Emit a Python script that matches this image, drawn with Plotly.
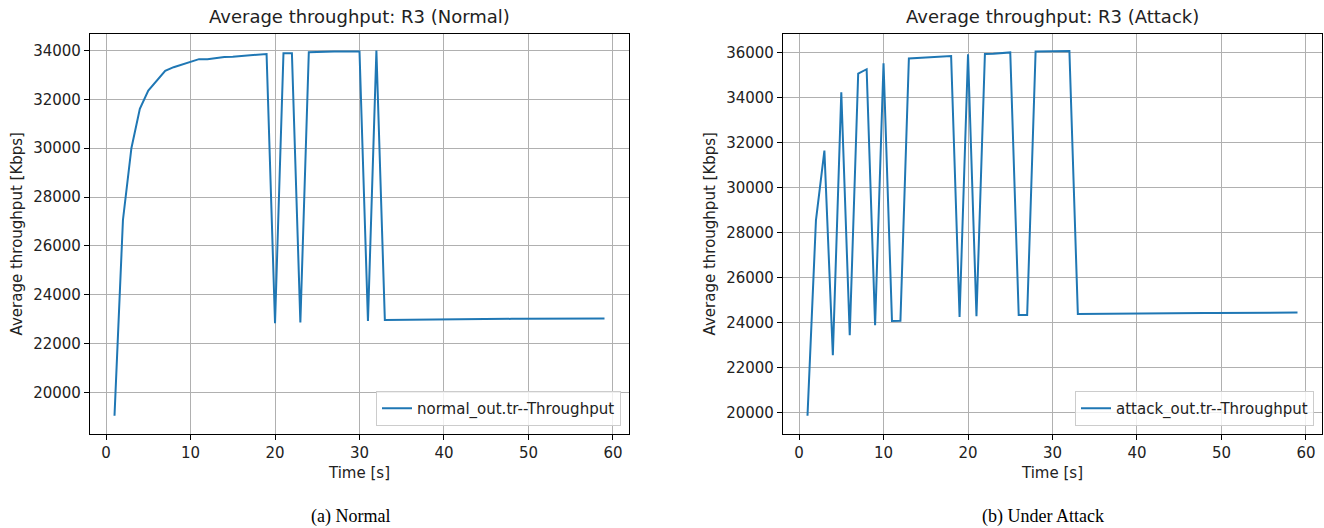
import plotly.graph_objects as go

# ---- data ----
time_s = list(range(1, 60))

normal_throughput = [
    19040, 27060, 30000, 31610, 32360, 32770, 33170, 33320, 33430, 33540,
    33650, 33650, 33710, 33740, 33750, 33780, 33800, 33810, 33860, 22830,
    33890, 33890, 22860, 33930, 33950, 33960, 33960, 33960, 33955, 33960,
    22920, 34000, 22965, 22970, 22975, 22978, 22982, 22985, 22988, 22990,
    22993, 22995, 22997, 23000, 23002, 23004, 23006, 23008, 23010, 23012,
    23013, 23015, 23016, 23018, 23019, 23020, 23021, 23022, 23023,
]

attack_throughput = [
    19850, 28550, 31650, 22550, 34250, 23440, 35080, 35270, 23880, 35530,
    24070, 24080, 35750, 35770, 35790, 35810, 35830, 35860, 24250, 35940,
    24280, 35950, 35960, 35990, 36020, 24330, 24330, 36060, 36062, 36064,
    36066, 36080, 24380, 24385, 24390, 24393, 24396, 24399, 24402, 24405,
    24407, 24410, 24412, 24414, 24416, 24418, 24420, 24422, 24424, 24426,
    24428, 24430, 24432, 24434, 24436, 24438, 24440, 24442, 24444,
]

normal_name = "normal_out.tr--Throughput"
attack_name = "attack_out.tr--Throughput"
titles = ["Average throughput: R3 (Normal)", "Average throughput: R3 (Attack)"]
captions = ["(a) Normal", "(b) Under Attack"]
x_ticks = [0, 10, 20, 30, 40, 50, 60]
y_ticks_normal = list(range(20000, 34001, 2000))
y_ticks_attack = list(range(20000, 36001, 2000))

# ---- figure ----
W, H = 1324, 528
FONT = "DejaVu Sans"
LINE_COLOR = "#1f77b4"
TXT = "#222222"

fig = go.Figure()
fig.add_trace(go.Scatter(x=time_s, y=normal_throughput, mode="lines", name=normal_name,
                         line=dict(color=LINE_COLOR, width=2), xaxis="x", yaxis="y",
                         legend="legend"))
fig.add_trace(go.Scatter(x=time_s, y=attack_throughput, mode="lines", name=attack_name,
                         line=dict(color=LINE_COLOR, width=2), xaxis="x2", yaxis="y2",
                         legend="legend2"))

def px_x(p):
    return p / W

def px_y(p):
    return 1 - p / H

ydom = [px_y(434), px_y(33.5)]
xdom1 = [px_x(90), px_x(629)]
xdom2 = [px_x(783), px_x(1322)]

axis_common = dict(
    showline=True, linecolor="black", linewidth=1.2, mirror=True,
    ticks="outside", ticklen=5, tickwidth=1, tickcolor="black",
    showgrid=True, gridcolor="#b0b0b0", gridwidth=1,
    zeroline=False, tickformat="d",
    tickfont=dict(family=FONT, size=15, color=TXT),
    title_font=dict(family=FONT, size=15, color=TXT),
)

legend_common = dict(
    xanchor="right", yanchor="bottom",
    bgcolor="rgba(255,255,255,0.8)", bordercolor="#cccccc", borderwidth=1,
    font=dict(family=FONT, size=15, color=TXT),
)

fig.update_layout(
    width=W, height=H, autosize=False,
    margin=dict(l=0, r=0, t=0, b=0),
    paper_bgcolor="white", plot_bgcolor="white",
    font=dict(family=FONT, size=15, color=TXT),
    xaxis=dict(domain=xdom1, anchor="y", range=[-1.9, 61.9], tickvals=x_ticks,
               title=dict(text="Time [s]", standoff=6), **axis_common),
    yaxis=dict(domain=ydom, anchor="x", range=[18290, 34700], tickvals=y_ticks_normal,
               title=dict(text="Average throughput [Kbps]", standoff=6), **axis_common),
    xaxis2=dict(domain=xdom2, anchor="y2", range=[-1.9, 61.9], tickvals=x_ticks,
                title=dict(text="Time [s]", standoff=6), **axis_common),
    yaxis2=dict(domain=ydom, anchor="x2", range=[19040, 36860], tickvals=y_ticks_attack,
                title=dict(text="Average throughput [Kbps]", standoff=6), **axis_common),
    legend=dict(x=px_x(621), y=px_y(426), **legend_common),
    legend2=dict(x=px_x(1314), y=px_y(426), **legend_common),
    showlegend=True,
)

annotations = [
    dict(text=titles[0], x=(xdom1[0] + xdom1[1]) / 2, y=px_y(16.5), xref="paper", yref="paper",
         xanchor="center", yanchor="middle", showarrow=False,
         font=dict(family=FONT, size=18, color=TXT)),
    dict(text=titles[1], x=(xdom2[0] + xdom2[1]) / 2, y=px_y(16.5), xref="paper", yref="paper",
         xanchor="center", yanchor="middle", showarrow=False,
         font=dict(family=FONT, size=18, color=TXT)),
    dict(text=captions[0], x=px_x(350), y=px_y(516), xref="paper", yref="paper",
         xanchor="center", yanchor="middle", showarrow=False,
         font=dict(family="Liberation Serif", size=18, color="black")),
    dict(text=captions[1], x=px_x(1043), y=px_y(516), xref="paper", yref="paper",
         xanchor="center", yanchor="middle", showarrow=False,
         font=dict(family="Liberation Serif", size=18, color="black")),
]
fig.update_layout(annotations=annotations)

fig.write_html(
    "out.html",
    config={"displayModeBar": False},
    post_script="document.body.style.margin='0';document.body.style.overflow='hidden';",
)
